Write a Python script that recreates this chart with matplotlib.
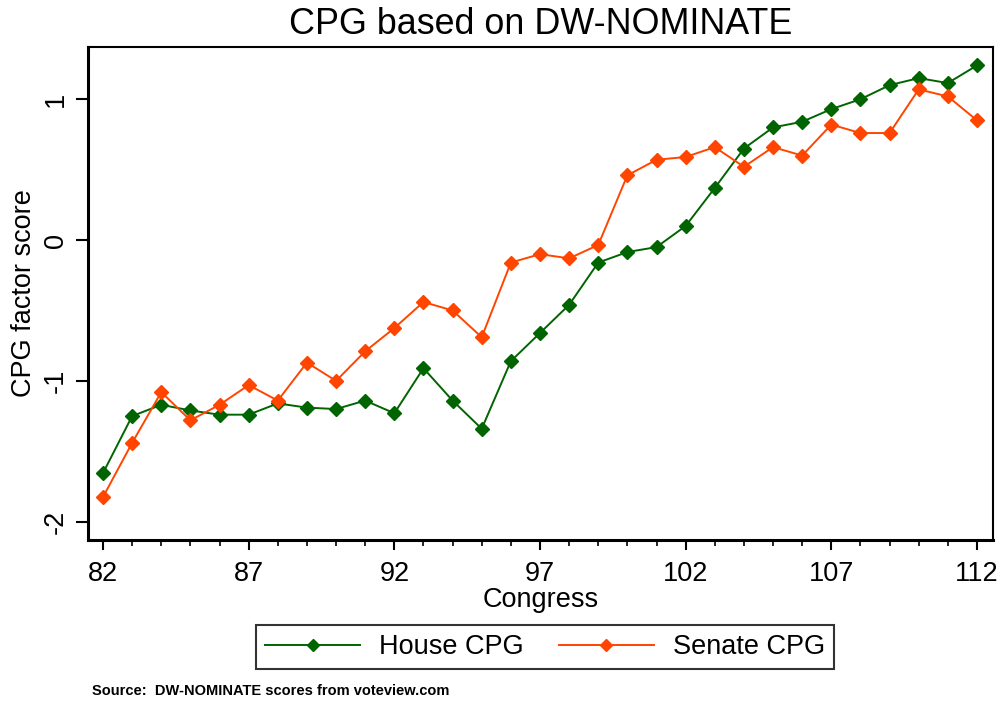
import matplotlib
matplotlib.use("Agg")
import matplotlib.pyplot as plt
from matplotlib.ticker import MultipleLocator

plt.rcParams["font.family"] = ["Liberation Sans", "DejaVu Sans"]

# Congress numbers 82..112
congress = list(range(82, 113))

house_cpg = [-1.655, -1.25, -1.17, -1.21, -1.24, -1.24, -1.16, -1.19, -1.20, -1.14,
             -1.23, -0.91, -1.14, -1.34, -0.86, -0.66, -0.46, -0.16, -0.085, -0.05,
             0.10, 0.37, 0.65, 0.80, 0.84, 0.93, 1.00, 1.10, 1.15, 1.115, 1.24]

senate_cpg = [-1.825, -1.44, -1.08, -1.28, -1.17, -1.03, -1.14, -0.87, -1.00, -0.79,
              -0.625, -0.44, -0.50, -0.69, -0.16, -0.10, -0.13, -0.035, 0.46, 0.57,
              0.59, 0.66, 0.52, 0.66, 0.60, 0.82, 0.76, 0.76, 1.07, 1.02, 0.85]

x_ticks = [82, 87, 92, 97, 102, 107, 112]
y_ticks = [-2, -1, 0, 1]

W, H = 1007, 704
fig = plt.figure(figsize=(W / 100, H / 100), dpi=100)
ax = fig.add_axes([88 / W, 1 - 540 / H, (993 - 88) / W, (540 - 47) / H])

ax.plot(congress, house_cpg, color="#006400", lw=1.4, marker="D", ms=7,
        mec="#006400", label="House CPG")
ax.plot(congress, senate_cpg, color="#FF4500", lw=1.4, marker="D", ms=7,
        mec="#FF4500", label="Senate CPG")

ax.set_xlim(81.485, 112.55)
ax.set_ylim(-2.13, 1.371)
ax.set_xticks(x_ticks)
ax.xaxis.set_minor_locator(MultipleLocator(1))
ax.set_yticks(y_ticks)
ax.set_yticklabels([str(v) for v in y_ticks], rotation=90, va="center")

ax.tick_params(axis="x", which="major", length=7, width=1.5, labelsize=19.5, pad=8)
ax.tick_params(axis="x", which="minor", length=4, width=1.2)
ax.tick_params(axis="y", which="major", length=9, width=1.5, labelsize=19.5, pad=5)

for side in ["left", "bottom"]:
    ax.spines[side].set_linewidth(2.2)
for side in ["top", "right"]:
    ax.spines[side].set_linewidth(1.5)

ax.set_xlabel("Congress", fontsize=19.5, labelpad=0)
ax.set_ylabel("CPG factor score", fontsize=19.5, labelpad=4)
fig.text(0.5 * (88 + 993) / W, 1 - 24 / H, "CPG based on DW-NOMINATE",
         fontsize=25.8, ha="center", va="center")

leg = fig.legend(loc="center", bbox_to_anchor=(545 / W, 1 - 647 / H), ncol=2,
                 fontsize=19.5, frameon=True, fancybox=False, markerscale=0.85,
                 handlelength=3.5, handletextpad=0.7, columnspacing=1.3,
                 borderpad=0.35, borderaxespad=0)
leg.get_frame().set_edgecolor("black")
leg.get_frame().set_linewidth(1.5)

fig.text(92 / W, 1 - 691 / H, "Source:  DW-NOMINATE scores from voteview.com",
         fontsize=10.5, fontweight="bold", ha="left", va="center")

fig.savefig("out.png", dpi=100)
